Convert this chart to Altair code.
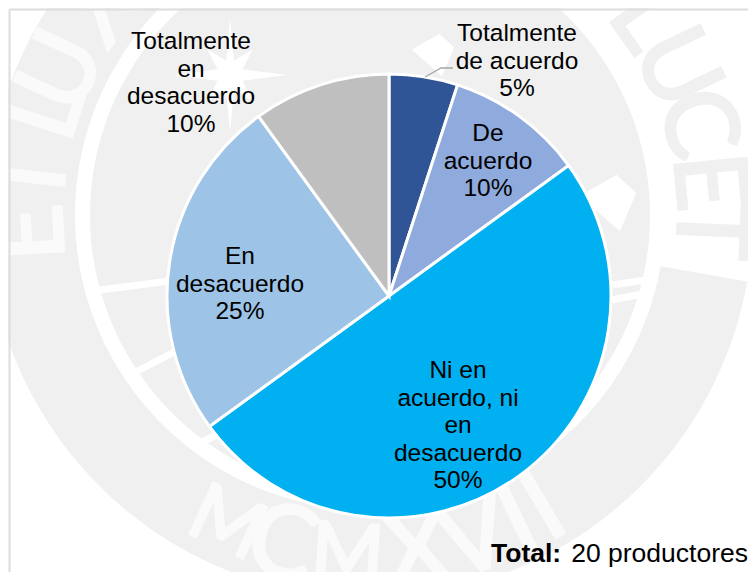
import math
import altair as alt
import pandas as pd

# Chart values
categories = ["Totalmente de acuerdo", "De acuerdo", "Ni en acuerdo, ni en desacuerdo",
              "En desacuerdo", "Totalmente en desacuerdo"]
shares = [5, 10, 50, 25, 10]
colors = ["#2F5597", "#8FAADC", "#00B0F0", "#9DC3E6", "#BFBFBF"]
label_lines = [
    "Totalmente\nde acuerdo\n5%",
    "De\nacuerdo\n10%",
    "Ni en\nacuerdo, ni\nen\ndesacuerdo\n50%",
    "En\ndesacuerdo\n25%",
    "Totalmente\nen\ndesacuerdo\n10%",
]
label_px = [509, 480, 450, 232, 183]
label_py = [26, 126, 363, 249, 34]

W, H = 740, 564
CX, CY, R = 381, 288, 222
SX, SY = 362, 207
GRAY = "#F0F0F0"
FONT = "Liberation Sans"
FS = 24.5

# Seal watermark
rings = pd.DataFrame({
    "a": [math.radians(100), 0],
    "b": [math.radians(330), 2 * math.pi],
    "r": [383, 280],
    "r2": [295, 0],
})
wm_rings = alt.Chart(rings).mark_arc(fill=GRAY, stroke=None).encode(
    x=alt.value(SX), y=alt.value(SY),
    theta=alt.Theta("a:Q", scale=None), theta2="b:Q",
    radius=alt.Radius("r:Q", scale=None), radius2="r2:Q",
)

seal_letters = list("LUCET") + list("ETLUX") + list("MCMXVII")
seal_theta = [54.5, 64.4, 74.4, 84.4, 92.5, 267, 276.4, 287.8, 295, 308,
              204.9, 195, 183.8, 172, 162, 154.2, 149.3]
seal_fill = ["#F0F0F0"] * 5 + ["#FAFAFA"] * 12
seal_bottom = [False] * 10 + [True] * 7
letters = pd.DataFrame({"t": seal_letters, "th": seal_theta, "c": seal_fill, "bot": seal_bottom})
letters["px"] = SX + 340 * letters.th.map(lambda d: math.sin(math.radians(d)))
letters["py"] = SY - 340 * letters.th.map(lambda d: math.cos(math.radians(d)))
letters["ang"] = [(d - 180 + 360) % 360 if b else d for d, b in zip(seal_theta, seal_bottom)]
letters["fs"] = [78 if t == "M" else 100 for t in seal_letters]
wm_letters = alt.Chart(letters).mark_text(
    font="Lato", baseline="middle", align="center", dy=2, strokeWidth=3
).encode(
    x=alt.X("px:Q", scale=None), y=alt.Y("py:Q", scale=None),
    text="t:N", angle=alt.Angle("ang:Q", scale=None),
    size=alt.Size("fs:Q", scale=None),
    color=alt.Color("c:N", scale=None),
    stroke=alt.Stroke("c:N", scale=None),
)

spokes = pd.DataFrame({
    "x": [92, 122, 194, 604, 603],
    "y": [282, 367, 434, 277, 292],
    "x2": [170, 170, 215, 650, 640],
    "y2": [272, 342, 424, 270, 285],
})
wm_spokes = alt.Chart(spokes).mark_rule(color="white", strokeWidth=7).encode(
    x=alt.X("x:Q", scale=None), y=alt.Y("y:Q", scale=None), x2="x2:Q", y2="y2:Q"
)

star_path = ("M0,-1 L.07,-.25 L.4,-.45 L.22,-.1 L1,0 L.22,.1 L.4,.45 L.07,.25 L0,1 "
             "L-.07,.25 L-.4,.45 L-.22,.1 L-1,0 L-.22,-.1 L-.4,-.45 L-.07,-.25 Z")
kite_path = "M.3,-1 L1,-.35 L.42,1 L-1,-.25 Z"
stars = pd.DataFrame({"x": [222], "y": [67]})
kites = pd.DataFrame({"x": [600], "y": [195]})
tops = pd.DataFrame({"x": [425], "y": [47]})
wm_star = alt.Chart(stars).mark_point(shape=star_path, size=13000, filled=True, fill="white",
                                      stroke=None, opacity=1).encode(
    x=alt.X("x:Q", scale=None), y=alt.Y("y:Q", scale=None))
wm_kite = alt.Chart(kites).mark_point(shape=kite_path, size=3200, filled=True, fill="white",
                                      stroke=None, opacity=1).encode(
    x=alt.X("x:Q", scale=None), y=alt.Y("y:Q", scale=None))
wm_top = alt.Chart(tops).mark_point(shape=kite_path, size=1800, filled=True, fill="white",
                                    stroke=None, opacity=1).encode(
    x=alt.X("x:Q", scale=None), y=alt.Y("y:Q", scale=None))

# Pie
pie_df = pd.DataFrame({"cat": categories, "share": shares, "ord": range(5),
                       "label": label_lines, "px": label_px, "py": label_py})
pie = alt.Chart(pie_df).mark_arc(radius=R, stroke="white", strokeWidth=3).encode(
    x=alt.value(CX), y=alt.value(CY),
    theta=alt.Theta("share:Q", stack=True),
    order=alt.Order("ord:Q"),
    color=alt.Color("cat:N", scale=alt.Scale(domain=categories, range=colors), legend=None),
)
labels = alt.Chart(pie_df).mark_text(
    font=FONT, fontSize=FS, lineHeight=27.6, lineBreak="\n", align="center",
    baseline="middle", color="black"
).encode(x=alt.X("px:Q", scale=None), y=alt.Y("py:Q", scale=None), text="label:N")

leader = alt.Chart(pd.DataFrame({"x": [417, 433, 445], "y": [69, 60, 60], "o": [0, 1, 2]})).mark_line(
    color="#A6A6A6", strokeWidth=1.3
).encode(x=alt.X("x:Q", scale=None), y=alt.Y("y:Q", scale=None), order="o:Q")

# Note and frame
note_b = alt.Chart(pd.DataFrame({"x": [483], "y": [553.5], "t": ["Total:"]})).mark_text(
    font=FONT, fontSize=26.5, fontWeight="bold", align="left", baseline="alphabetic", color="black"
).encode(x=alt.X("x:Q", scale=None), y=alt.Y("y:Q", scale=None), text="t:N")
note_r = alt.Chart(pd.DataFrame({"x": [740], "y": [553.5], "t": ["20 productores"]})).mark_text(
    font=FONT, fontSize=26.5, align="right", baseline="alphabetic", color="black"
).encode(x=alt.X("x:Q", scale=None), y=alt.Y("y:Q", scale=None), text="t:N")

frame = alt.Chart(pd.DataFrame({"x": [1.5, 1.5], "y": [1.5, 1.5], "x2": [W, 1.5], "y2": [1.5, H]})).mark_rule(
    color="#DCDCDC", strokeWidth=2
).encode(x=alt.X("x:Q", scale=None), y=alt.Y("y:Q", scale=None), x2="x2:Q", y2="y2:Q")

chart = alt.layer(
    wm_rings, wm_letters, wm_spokes, wm_star, wm_kite, wm_top, frame, pie, leader, labels, note_b, note_r
).properties(
    width=W, height=H, padding=0, autosize=alt.AutoSizeParams(type="none"),
    background="white",
).configure_view(stroke=None)

chart.save("out.html", embed_options={"renderer": "svg", "actions": False})
